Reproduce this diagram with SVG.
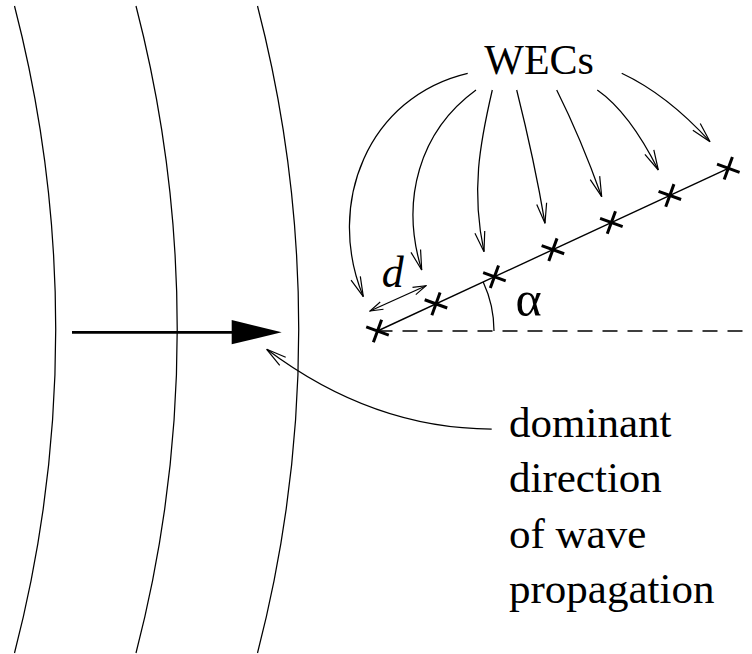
<svg xmlns="http://www.w3.org/2000/svg" width="752" height="654" viewBox="0 0 752 654">
<style>
.thin{fill:none;stroke:#000;stroke-width:1.25}
.txt{font-family:"Liberation Serif","Times New Roman",serif;fill:#000}
.cross{fill:none;stroke:#000;stroke-width:3}
</style>
<defs>
<marker id="open" markerUnits="userSpaceOnUse" markerWidth="24" markerHeight="14" viewBox="-22 -7 24 14" refX="0" refY="0" orient="auto">
<path d="M-20,-5 L0,0 L-20,5" fill="none" stroke="#000" stroke-width="1.2"/>
</marker>
<marker id="small" markerUnits="userSpaceOnUse" markerWidth="16" markerHeight="10" viewBox="-15 -5 16 10" refX="0" refY="0" orient="auto-start-reverse">
<path d="M-13,-4 L0,0 L-13,4" fill="none" stroke="#000" stroke-width="1.1"/>
</marker>
<path id="x" d="M-12,0 H12 M0,-12 V12" class="cross"/>
</defs>
<rect width="752" height="654" fill="#fff"/>
<g id="waves">
<path class="thin" d="M14.5,6 A1290,1290 0 0 1 14.5,653"/>
<path class="thin" d="M136,6 A1290,1290 0 0 1 136,653"/>
<path class="thin" d="M257.5,6 A1290,1290 0 0 1 257.5,653"/>
</g>
<g id="array">
<path d="M377.5,331 L728.3,168.3" fill="none" stroke="#000" stroke-width="1.4"/>
<path d="M377.5,331 H752" fill="none" stroke="#000" stroke-width="1.3" stroke-dasharray="15 10"/>
<path class="thin" d="M483.2,282 A116.5,116.5 0 0 1 494,331"/>
<use href="#x" transform="translate(377.5,331) rotate(20)"/>
<use href="#x" transform="translate(435.97,303.88) rotate(20)"/>
<use href="#x" transform="translate(494.43,276.76) rotate(20)"/>
<use href="#x" transform="translate(552.9,249.64) rotate(20)"/>
<use href="#x" transform="translate(611.37,222.52) rotate(20)"/>
<use href="#x" transform="translate(669.83,195.4) rotate(20)"/>
<use href="#x" transform="translate(728.3,168.28) rotate(20)"/>
</g>
<g id="wecs-label"><text class="txt" x="484.3" y="74" font-size="42">WECs</text></g>
<g id="d-label"><text class="txt" x="381.7" y="286.7" font-size="44" font-style="italic">d</text></g>
<g id="alpha-label"><text class="txt" x="515.5" y="316" font-size="50">α</text></g>
<g id="caption">
<text class="txt" x="509" y="437" font-size="43">dominant</text>
<text class="txt" x="509" y="492" font-size="43">direction</text>
<text class="txt" x="509" y="548" font-size="43">of wave</text>
<text class="txt" x="509" y="603" font-size="43">propagation</text>
</g>
<g id="connectors">
<path class="thin" marker-end="url(#open)" d="M467.7,73.3 C368,96.8 325,203.7 363.3,296.7"/>
<path class="thin" marker-end="url(#open)" d="M476,90 C419.5,131.2 400,200 421.7,270"/>
<path class="thin" marker-end="url(#open)" d="M492.3,90 C479.8,143.8 471,190.6 484,251.7"/>
<path class="thin" marker-end="url(#open)" d="M516.7,90 Q534.6,161.6 545,223.3"/>
<path class="thin" marker-end="url(#open)" d="M556.7,90 Q580.8,138.2 601.7,196.7"/>
<path class="thin" marker-end="url(#open)" d="M597.3,90 Q629.6,112.6 658.3,170"/>
<path class="thin" marker-end="url(#open)" d="M621.7,73.3 Q667.3,94.7 710,141.7"/>
<path class="thin" marker-end="url(#open)" d="M491.7,429 Q373,429 266.7,349.3"/>
<path class="thin" marker-start="url(#small)" marker-end="url(#small)" d="M370,311 L426,285.7"/>
<path d="M72,332.3 H236" fill="none" stroke="#000" stroke-width="2.8"/>
<polygon points="231.7,320 281.7,332.3 231.7,344.3" fill="#000"/>
</g>
</svg>
